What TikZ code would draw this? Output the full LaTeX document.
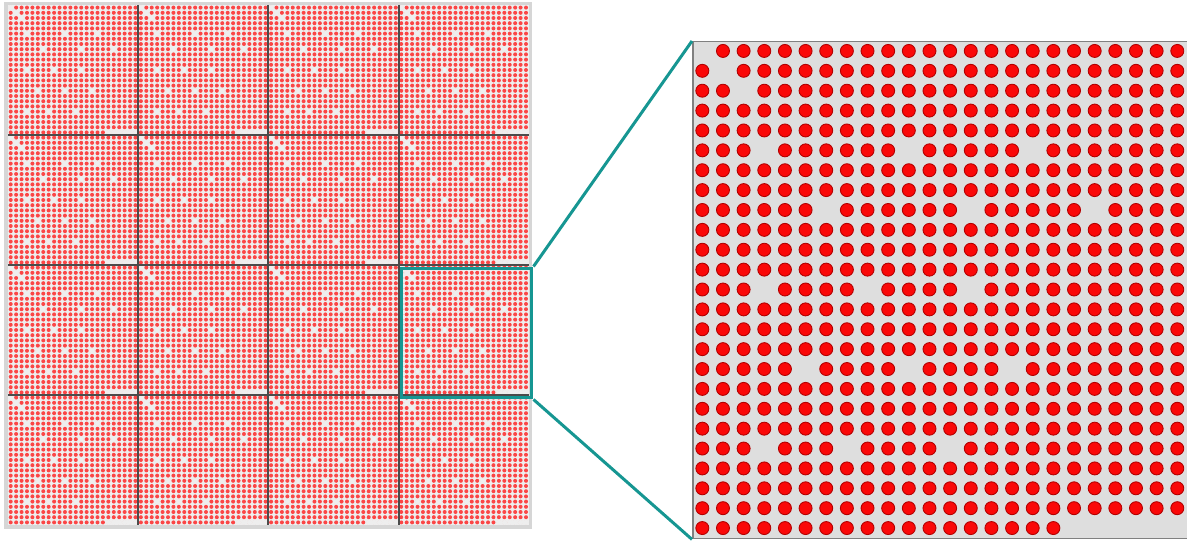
\documentclass[tikz,border=0pt]{standalone}
\usetikzlibrary{positioning}

\definecolor{zoomteal}{RGB}{22,150,146}
\definecolor{panelgray}{RGB}{222,222,222}
\definecolor{framegray}{RGB}{214,214,214}
\definecolor{seamgray}{RGB}{75,75,75}
\definecolor{dotred}{RGB}{250,8,8}

% missing positions in one tile (row-col)
\newcommand{\gaplist}{1/1,2/2,3/3,6/4,6/11,6/17,9/7,9/14,9/20,13/4,13/9,13/14,
    17/6,17/11,17/16,21/4,21/8,21/13,25/19,25/20,25/21,25/22,25/23,25/24}
\foreach \r/\c in \gaplist
    {\expandafter\gdef\csname gap-\r-\c\endcsname{}}

\begin{document}
\begin{tikzpicture}[
        x=0.02cm, y=-0.02cm,
        bigdot/.style={fill=dotred, draw=red!70!black, line width=0.5pt},
        dotrow/.style={draw=dotred!75, line width=0.08cm, line cap=round,
                       dash pattern=on 0pt off 0.1085cm},
        hole/.style={fill=panelgray!50!white},
        seam/.style={draw=seamgray, line width=0.04cm},
        zoomline/.style={draw=zoomteal, line width=0.06cm}
    ]
    \useasboundingbox (0,0) rectangle (1187,544);

        %--------------------------------
        % left: 4 x 4 tiles
        %--------------------------------
        \fill[framegray] (4,2) rectangle (532,529);
        \fill[panelgray!50!white] (8,5) rectangle (528.8,525);

        % 100 rows of 96 dots
        \foreach \k in {1,...,100}
            \draw[dotrow] (10.7125,{5+(\k-0.5)*5.2}) -- (526.1,{5+(\k-0.5)*5.2});

        % holes of every tile
        \foreach \i in {0,...,3}
            \foreach \j in {0,...,3}
                \foreach \r/\c in \gaplist
                    \fill[hole] ({8+130.2*\i+(\c-0.5)*5.425},{5+130*\j+(\r-0.5)*5.2}) circle (2.6);

        \foreach \i in {1,2,3}
            \draw[seam] (8+130.2*\i,5) -- (8+130.2*\i,525);
        \foreach \j in {1,2,3}
            \draw[seam] (8,5+130*\j) -- (528.8,5+130*\j);

        \node[draw=zoomteal, line width=0.06cm, minimum width=2.62cm, minimum height=2.6cm,
              inner sep=0pt, anchor=north west] (zoombox) at (399.5,266.5) {};

        %--------------------------------
        % right: one tile enlarged
        %--------------------------------
        \node[draw=gray, fill=panelgray, line width=0.03cm, minimum width=9.91cm, minimum height=9.94cm,
              inner sep=0pt, anchor=north west] (panel) at (692,41) {};

        \foreach \row in {1,...,25}
            \foreach \col in {1,...,24}{
                \ifcsname gap-\row-\col\endcsname\else
                    \filldraw[bigdot] ({692+(\col-0.5)*20.65},{41+(\row-0.5)*19.88}) circle (6.5);
                \fi
            }

        \draw[zoomline] (zoombox.north east) -- (panel.north west);
        \draw[zoomline] (zoombox.south east) -- (panel.south west);

\end{tikzpicture}
\end{document}
